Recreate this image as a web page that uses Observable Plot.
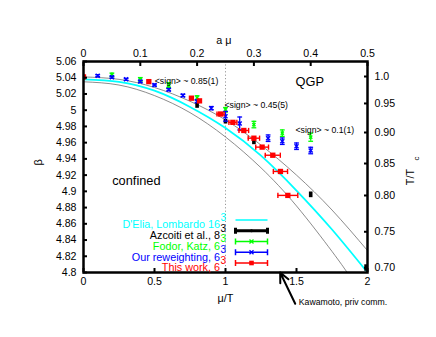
<!DOCTYPE html>
<html><head><meta charset="utf-8">
<script src="https://cdn.jsdelivr.net/npm/d3@7"></script>
<script src="https://cdn.jsdelivr.net/npm/@observablehq/plot@0.6"></script>
<style>body{margin:0;background:#fff;}</style>
</head><body><div id="chart"></div>
<script>
// ---- axes ----
const Nt = 4; // a*mu = (mu/T) / Nt
const muTicks = [0, 0.5, 1, 1.5, 2];
const aMuTicks = [0, 0.1, 0.2, 0.3, 0.4, 0.5];
const betaTicks = [4.8, 4.82, 4.84, 4.86, 4.88, 4.9, 4.92, 4.94, 4.96, 4.98, 5, 5.02, 5.04, 5.06];
const tcLabels = ["0.70", "0.75", "0.80", "0.85", "0.90", "0.95", "1.0"];
const tcBeta   = [4.8058, 4.8502, 4.8949, 4.9343, 4.9725, 5.0083, 5.0415];

// ---- D'Elia, Lombardo 16^3 fit (cyan) and its error band (gray) ----
const fitMu    = [0, 0.25, 0.5, 0.75, 1.0, 1.25, 1.5, 1.75, 2.0];
const fitBeta  = [5.038, 5.035, 5.024, 5.004, 4.978, 4.944, 4.901, 4.853, 4.800];
const bandHiMu   = [0, 0.25, 0.5, 0.75, 1.0, 1.25, 1.5, 1.75, 2.0];
const bandHiBeta = [5.041, 5.038, 5.028, 5.011, 4.988, 4.957, 4.920, 4.877, 4.827];
const bandLoMu   = [0, 0.25, 0.5, 0.75, 1.0, 1.25, 1.5, 1.75, 1.857];
const bandLoBeta = [5.035, 5.031, 5.018, 4.997, 4.967, 4.929, 4.882, 4.826, 4.800];

// ---- Azcoiti et al., 8^3 (black) ----
const azMu   = [0.8, 1.0, 1.2, 1.6, 1.99];
const azBeta = [5.0056, 4.9858, 4.961, 4.8957, 4.8055];
const azErr  = [0.0033, 0.0028, 0.0035, 0.0035, 0.004];

// ---- Fodor, Katz, 6^3 (green) ----
const fkMu   = [0.2, 0.4, 0.6, 0.8, 1.0, 1.2, 1.4, 1.6];
const fkBeta = [5.0435, 5.038, 5.031, 5.0153, 5.0005, 4.9823, 4.9717, 4.9667];
const fkErr  = [0.0022, 0.0022, 0.003, 0.0025, 0.0028, 0.004, 0.004, 0.005];

// ---- Our reweighting, 6^3 (blue) ----
const rwMu   = [0.1, 0.2, 0.3, 0.4, 0.5, 0.6, 0.7, 0.8, 0.9, 1.0, 1.1, 1.3, 1.4, 1.5, 1.6];
const rwBeta = [5.0425, 5.0407, 5.038, 5.0354, 5.031, 5.0253, 5.0181, 5.011, 5.0025, 4.9925, 4.9836, 4.9655, 4.9618, 4.9556, 4.9503];
const rwErr  = [0.0012, 0.0012, 0.0012, 0.0012, 0.0012, 0.0014, 0.0015, 0.0015, 0.002, 0.006, 0.008, 0.004, 0.004, 0.004, 0.004];

// ---- This work, 6^3 (red) ----
const twMu   = [0, 0.46, 0.76, 0.817, 0.965, 1.052, 1.129, 1.2, 1.258, 1.333, 1.387, 1.439];
const twBeta = [5.041, 5.0352, 5.0148, 5.0115, 4.9953, 4.985, 4.975, 4.9655, 4.9545, 4.9445, 4.9245, 4.895];
const twXErr = [0, 0, 0, 0, 0.025, 0.028, 0.034, 0.04, 0.045, 0.053, 0.05, 0.07];

// ---- texts ----
const legendLabels = ["D'Elia, Lombardo 16", "Azcoiti et al., 8", "Fodor, Katz, 6", "Our reweighting, 6", "This work, 6"];
const legendSup = ["3", "3", "3", "3", "3"];
const legendColors = ["#00ffff", "#000000", "#00ff00", "#0000ff", "#ff0000"];
const signLabels = ["<sign> ~ 0.85(1)", "<sign> ~ 0.45(5)", "<sign> ~ 0.1(1)"];
const kawamotoMu = [1.385];
const kawamotoText = ["Kawamoto, priv comm."];

// ---- tables ----
const zip2 = (a, b) => a.map((v, i) => ({mu: v, beta: b[i]}));
const fit = zip2(fitMu, fitBeta);
const bandHi = zip2(bandHiMu, bandHiBeta);
const bandLo = zip2(bandLoMu, bandLoBeta);
const az = azMu.map((m, i) => ({mu: m, beta: azBeta[i], e: azErr[i]}));
const fk = fkMu.map((m, i) => ({mu: m, beta: fkBeta[i], e: fkErr[i]}));
const rw = rwMu.map((m, i) => ({mu: m, beta: rwBeta[i], e: rwErr[i]}));
const tw = twMu.map((m, i) => ({mu: m, beta: twBeta[i], e: twXErr[i]}));

// ---- custom symbols ----
const rad = s => Math.sqrt(s / Math.PI);
const hBar = {draw(c, s) { const r = rad(s); c.moveTo(-r, 0); c.lineTo(r, 0); }};
const vBar = {draw(c, s) { const r = rad(s); c.moveTo(0, -r); c.lineTo(0, r); }};
const cross = {draw(c, s) { const r = rad(s); c.moveTo(-r, -r); c.lineTo(r, r); c.moveTo(-r, r); c.lineTo(r, -r); }};

const font = "'Liberation Sans', Arial, Helvetica, sans-serif";

function yErrMarks(data, color, w, capR, pointSym, pointR) {
  return [
    Plot.ruleX(data, {x: "mu", y1: d => d.beta - d.e, y2: d => d.beta + d.e, stroke: color, strokeWidth: w, clip: true}),
    Plot.dot(data, {x: "mu", y: d => d.beta + d.e, symbol: hBar, r: capR, stroke: color, fill: "none", strokeWidth: 1.3, clip: true}),
    Plot.dot(data, {x: "mu", y: d => d.beta - d.e, symbol: hBar, r: capR, stroke: color, fill: "none", strokeWidth: 1.3, clip: true}),
    pointSym ? Plot.dot(data, {x: "mu", y: "beta", symbol: pointSym, r: pointR, stroke: color, fill: "none", strokeWidth: 1.4, clip: true}) : null
  ];
}

// legend geometry (pixels relative to frame top-left)
const legRow0 = 158.5, legStep = 10.75, legTextEnd = 136.5, legSample = 168, legHalf = 16;

const legendMarks = legendLabels.flatMap((lab, i) => {
  const col = legendColors[i];
  const dy = legRow0 + i * legStep;
  const m = [
    Plot.text([lab], {text: d => d, frameAnchor: "top-left", dx: legTextEnd, dy: dy + 0.8, textAnchor: "end", fill: col, fontSize: 10.8}),
    Plot.text([legendSup[i]], {text: d => d, frameAnchor: "top-left", dx: legTextEnd + 0.5, dy: dy - 6.2, textAnchor: "start", fill: col, fontSize: 10}),
    Plot.dot([0], {frameAnchor: "top-left", dx: legSample, dy, symbol: hBar, r: legHalf, stroke: col, fill: "none", strokeWidth: i === 0 ? 1.6 : (i === 1 ? 3 : 1.5)})
  ];
  if (i > 0) {
    const cw = i === 1 ? 3 : 1.5;
    m.push(Plot.dot([0], {frameAnchor: "top-left", dx: legSample - legHalf, dy, symbol: vBar, r: 3, stroke: col, fill: "none", strokeWidth: cw}));
    m.push(Plot.dot([0], {frameAnchor: "top-left", dx: legSample + legHalf, dy, symbol: vBar, r: 3, stroke: col, fill: "none", strokeWidth: cw}));
    if (i === 1) m.push(Plot.dot([0], {frameAnchor: "top-left", dx: legSample, dy, r: 1.5, fill: col}));
    if (i === 2 || i === 3) m.push(Plot.dot([0], {frameAnchor: "top-left", dx: legSample, dy, symbol: cross, r: 2, stroke: col, fill: "none", strokeWidth: 1.3}));
    if (i === 4) m.push(Plot.dot([0], {frameAnchor: "top-left", dx: legSample, dy, symbol: "square", r: 2.6, fill: col}));
  }
  return m;
});

const chart = Plot.plot({
  width: 436, height: 337,
  marginLeft: 83, marginRight: 69, marginTop: 61, marginBottom: 65,
  x: {domain: [0, 2]},
  y: {domain: [4.8, 5.06]},
  style: {fontFamily: font, fontSize: "10.6px", background: "#fff", color: "#000", overflow: "visible"},
  marks: [
    Plot.ruleX([1], {stroke: "#999", strokeWidth: 1, strokeDasharray: "1.2,2.2"}),
    Plot.line(bandHi, {x: "mu", y: "beta", stroke: "#666", strokeWidth: 0.75, curve: "natural", clip: true}),
    Plot.line(bandLo, {x: "mu", y: "beta", stroke: "#666", strokeWidth: 0.75, curve: "natural", clip: true}),
    Plot.line(fit, {x: "mu", y: "beta", stroke: "#00ffff", strokeWidth: 1.8, curve: "natural", clip: true}),
    // Azcoiti (black)
    Plot.ruleX(az, {x: "mu", y1: d => d.beta - d.e, y2: d => d.beta + d.e, stroke: "#000", strokeWidth: 3.6, clip: true}),
    // Fodor Katz (green)
    ...yErrMarks(fk, "#00ff00", 1.3, 2.4, cross, 1.6),
    // Our reweighting (blue)
    ...yErrMarks(rw, "#0000ff", 1.3, 2.4, cross, 2),
    // This work (red)
    Plot.ruleY(tw.filter(d => d.e > 0), {y: "beta", x1: d => d.mu - d.e, x2: d => d.mu + d.e, stroke: "#ff0000", strokeWidth: 1.4, clip: true}),
    Plot.dot(tw.filter(d => d.e > 0), {x: d => d.mu - d.e, y: "beta", symbol: vBar, r: 2.6, stroke: "#ff0000", fill: "none", strokeWidth: 1.4, clip: true}),
    Plot.dot(tw.filter(d => d.e > 0), {x: d => d.mu + d.e, y: "beta", symbol: vBar, r: 2.6, stroke: "#ff0000", fill: "none", strokeWidth: 1.4, clip: true}),
    Plot.dot(tw, {x: "mu", y: "beta", symbol: "square", r: 3, fill: "#ff0000", clip: true}),
    Plot.frame({stroke: "#000", strokeWidth: 2.5}),
    // axes (inward ticks)
    Plot.axisY({anchor: "left", ticks: betaTicks, tickFormat: d => String(+d.toFixed(2)), tickSize: -4, tickPadding: 11, strokeWidth: 2, label: null}),
    Plot.axisY({anchor: "right", ticks: tcBeta, tickFormat: d => tcLabels[tcBeta.indexOf(d)], tickSize: -4, tickPadding: 11, strokeWidth: 2, label: null}),
    Plot.axisX({anchor: "bottom", ticks: muTicks, tickFormat: d => String(d), tickSize: -4, tickPadding: 9, strokeWidth: 2, label: null}),
    Plot.axisX({anchor: "top", ticks: aMuTicks.map(a => a * Nt), tickFormat: d => String(+(d / Nt).toFixed(2)), tickSize: -4, tickPadding: 9, strokeWidth: 2, label: null}),
    // axis titles
    Plot.text(["μ/T"], {text: d => d, frameAnchor: "bottom", dy: 29.7, fontSize: 10.8}),
    Plot.text(["a μ"], {text: d => d, frameAnchor: "top", dx: -1.7, dy: -25.3, fontSize: 10.8}),
    Plot.text(["β"], {text: d => d, frameAnchor: "left", dx: -45, dy: -1.5, rotate: -90, fontSize: 11}),
    Plot.text(["T/T"], {text: d => d, frameAnchor: "right", dx: 43, dy: 2, rotate: -90, fontSize: 10.8}),
    Plot.text(["c"], {text: d => d, frameAnchor: "right", dx: 48.5, dy: -10.5, rotate: -90, fontSize: 8}),
    // annotations
    Plot.text([signLabels[0]], {text: d => d, frameAnchor: "top-left", dx: 71.3, dy: 16.7, textAnchor: "start", fontSize: 8.7}),
    Plot.text([signLabels[1]], {text: d => d, frameAnchor: "top-left", dx: 141, dy: 40.7, textAnchor: "start", fontSize: 8.7}),
    Plot.text([signLabels[2]], {text: d => d, frameAnchor: "top-left", dx: 212, dy: 65.7, textAnchor: "start", fontSize: 8.7}),
    Plot.text(["QGP"], {text: d => d, frameAnchor: "top-left", dx: 212, dy: 15, textAnchor: "start", fontSize: 12.8}),
    Plot.text(["confined"], {text: d => d, frameAnchor: "top-left", dx: 28.7, dy: 114, textAnchor: "start", fontSize: 12.8}),
    Plot.arrow(kawamotoMu, {x1: d => d + 0.106, y1: 4.8 - 0.0385, x2: d => d, y2: 4.8, stroke: "#000", strokeWidth: 2, headLength: 8, headAngle: 50}),
    Plot.text(kawamotoText, {text: d => d, frameAnchor: "bottom-left", dx: 215.3, dy: 32.3, textAnchor: "start", fontSize: 8.7}),
    ...legendMarks
  ]
});
document.getElementById("chart").appendChild(chart);
</script>
</body></html>
